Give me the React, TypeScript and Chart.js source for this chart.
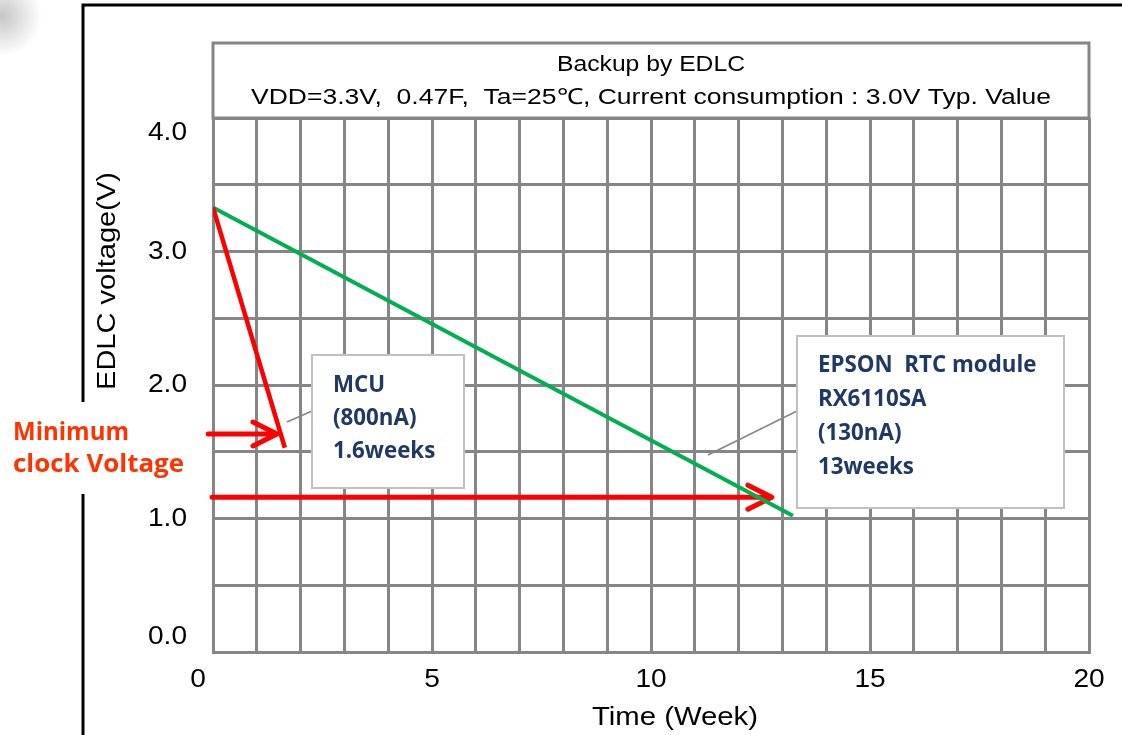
import React, { useEffect, useRef } from "react";
import { Chart, registerables } from "chart.js";

Chart.register(...registerables);

// ---- data ----
const mcuWeeks = [0, 1.64];
const mcuVolts = [3.33, 1.53];
const rtcWeeks = [0, 13.24];
const rtcVolts = [3.33, 1.02];
const mcuArrowWeeks = [-0.11, 1.46];
const mcuArrowVolt = 1.633;
const rtcArrowWeeks = [-0.02, 12.76];
const rtcArrowVolt = 1.16;
const xTickValues = [0, 5, 10, 15, 20];
const yTickValues = [0, 1, 2, 3, 4];
const titleLines = [
  "Backup by EDLC",
  "VDD=3.3V,  0.47F,  Ta=25\u2103, Current consumption : 3.0V Typ. Value",
];
const mcuLabel = ["MCU", "(800nA)", "1.6weeks"];
const rtcLabel = ["EPSON  RTC module", "RX6110SA", "(130nA)", "13weeks"];
const minClockLabel = ["Minimum", "clock Voltage"];
const xAxisTitle = "Time (Week)";
const yAxisTitle = "EDLC voltage(V)";

const GRID = "#868686";
const NAVY = "#1F3864";

function fitText(
  ctx: CanvasRenderingContext2D,
  text: string,
  cx: number,
  cy: number,
  width: number | null,
  align: CanvasTextAlign,
  rotate = 0,
  sxFixed = 1
) {
  const m = ctx.measureText(text).width;
  const sx = width ? width / m : sxFixed;
  ctx.save();
  ctx.translate(cx, cy);
  if (rotate) ctx.rotate(rotate);
  ctx.scale(sx, 1);
  ctx.textAlign = align;
  ctx.textBaseline = "middle";
  ctx.fillText(text, 0, 0);
  ctx.restore();
}

function arrow(ctx: CanvasRenderingContext2D, x0: number, x1: number, y: number) {
  ctx.save();
  ctx.strokeStyle = "#FF0000";
  ctx.lineWidth = 5;
  ctx.lineCap = "round";
  ctx.lineJoin = "round";
  ctx.beginPath();
  ctx.moveTo(x0, y);
  ctx.lineTo(x1 - 2, y);
  ctx.stroke();
  ctx.beginPath();
  ctx.moveTo(x1 - 24, y - 12);
  ctx.lineTo(x1, y);
  ctx.lineTo(x1 - 24, y + 12);
  ctx.stroke();
  ctx.restore();
}

const decorPlugin = {
  id: "decor",
  beforeDatasetsDraw(chart: any) {
    const ctx: CanvasRenderingContext2D = chart.ctx;
    const xs = chart.scales.x;
    const ys = chart.scales.y;
    arrow(
      ctx,
      xs.getPixelForValue(mcuArrowWeeks[0]),
      xs.getPixelForValue(mcuArrowWeeks[1]),
      ys.getPixelForValue(mcuArrowVolt)
    );
    arrow(
      ctx,
      xs.getPixelForValue(rtcArrowWeeks[0]),
      xs.getPixelForValue(rtcArrowWeeks[1]),
      ys.getPixelForValue(rtcArrowVolt)
    );
  },
  afterDraw(chart: any) {
    const ctx: CanvasRenderingContext2D = chart.ctx;
    const area = chart.chartArea;
    const xs = chart.scales.x;
    const ys = chart.scales.y;

    // corner shadow blob
    ctx.save();
    const g = ctx.createRadialGradient(2, 16, 0, 2, 16, 40);
    g.addColorStop(0, "rgba(150,150,150,0.55)");
    g.addColorStop(1, "rgba(150,150,150,0)");
    ctx.fillStyle = g;
    ctx.fillRect(0, 0, 60, 60);
    ctx.restore();

    // outer frame
    ctx.save();
    ctx.strokeStyle = "#000";
    ctx.lineWidth = 3;
    ctx.beginPath();
    ctx.moveTo(83, 735);
    ctx.lineTo(83, 494);
    ctx.moveTo(83, 402);
    ctx.lineTo(83, 5);
    ctx.lineTo(1122, 5);
    ctx.stroke();
    ctx.restore();

    // title box
    ctx.save();
    ctx.fillStyle = "#fff";
    ctx.strokeStyle = GRID;
    ctx.lineWidth = 3;
    ctx.fillRect(area.left, 43, area.right - area.left, area.top - 43);
    ctx.strokeRect(area.left, 43, area.right - area.left, area.top - 43);
    ctx.fillStyle = "#000";
    ctx.font = "22px 'Liberation Sans', Arial, sans-serif";
    const cx = (area.left + area.right) / 2;
    fitText(ctx, titleLines[0], cx, 65, 188, "center");
    fitText(ctx, titleLines[1], cx, 98, 800, "center");
    ctx.restore();

    // tick labels
    ctx.save();
    ctx.fillStyle = "#000";
    ctx.font = "26px 'Liberation Sans', Arial, sans-serif";
    for (const v of yTickValues) {
      let py = ys.getPixelForValue(v);
      py = Math.max(area.top + 15, Math.min(area.bottom - 15, py));
      fitText(ctx, v.toFixed(1), 187, py, null, "right", 0, 1.08);
    }
    for (const v of xTickValues) {
      let px = xs.getPixelForValue(v);
      if (v === xs.min) px -= 15;
      fitText(ctx, String(v), px, 680, null, "center", 0, 1.08);
    }
    // axis titles
    fitText(ctx, xAxisTitle, 675, 718, 166, "center");
    fitText(ctx, yAxisTitle, 108, 281, 218, "center", -Math.PI / 2);
    ctx.restore();

    // Minimum clock voltage label
    ctx.save();
    ctx.fillStyle = "#FF3300";
    ctx.font = "bold 25px 'Open Sans', 'Liberation Sans', sans-serif";
    fitText(ctx, minClockLabel[0], 13, 433, 116, "left");
    fitText(ctx, minClockLabel[1], 13, 465, 171, "left");
    ctx.restore();

    // annotation boxes
    const drawBox = (
      x: number,
      y: number,
      w: number,
      h: number,
      lines: string[],
      tx: number,
      ty: number,
      dy: number,
      leader: number[]
    ) => {
      ctx.save();
      ctx.strokeStyle = GRID;
      ctx.lineWidth = 1.5;
      ctx.beginPath();
      ctx.moveTo(leader[0], leader[1]);
      ctx.lineTo(leader[2], leader[3]);
      ctx.stroke();
      ctx.fillStyle = "#fff";
      ctx.fillRect(x, y, w, h);
      ctx.strokeStyle = "#C0C0C0";
      ctx.lineWidth = 2;
      ctx.strokeRect(x, y, w, h);
      ctx.fillStyle = NAVY;
      ctx.font = "bold 23px 'Open Sans', 'Liberation Sans', sans-serif";
      lines.forEach((l, i) => {
        fitText(ctx, l, tx, ty + i * dy, null, "left", 0, 0.97);
      });
      ctx.restore();
    };
    drawBox(312, 355, 152, 133, mcuLabel, 333, 385, 33, [312, 411, 287, 422]);
    drawBox(797, 336, 267, 172, rtcLabel, 818, 365, 34.3, [797, 411, 708, 455]);
  },
};

export default function App() {
  const ref = useRef<HTMLCanvasElement | null>(null);
  useEffect(() => {
    if (!ref.current) return;
    const chart = new Chart(ref.current, {
      type: "line",
      data: {
        datasets: [
          {
            label: "MCU",
            data: mcuWeeks.map((x, i) => ({ x, y: mcuVolts[i] })),
            borderColor: "#FF0000",
            borderWidth: 4.5,
            pointRadius: 0,
            fill: false,
          },
          {
            label: "RTC",
            data: rtcWeeks.map((x, i) => ({ x, y: rtcVolts[i] })),
            borderColor: "#00B050",
            borderWidth: 4,
            pointRadius: 0,
            fill: false,
          },
        ],
      },
      options: {
        responsive: false,
        animation: false,
        devicePixelRatio: 1,
        layout: { padding: { left: 213, right: 33, top: 118, bottom: 83 } },
        plugins: { legend: { display: false }, tooltip: { enabled: false }, title: { display: false } },
        scales: {
          x: {
            type: "linear",
            min: 0,
            max: 20,
            ticks: { stepSize: 1, display: false },
            grid: { color: GRID, lineWidth: 3, drawTicks: false },
            border: { color: GRID, width: 3 },
          },
          y: {
            type: "linear",
            min: 0,
            max: 4,
            ticks: { stepSize: 0.5, display: false },
            grid: { color: GRID, lineWidth: 3, drawTicks: false },
            border: { color: GRID, width: 3 },
          },
        },
      },
      plugins: [decorPlugin],
    });
    return () => chart.destroy();
  }, []);
  return (
    <div style={{ position: "fixed", left: 0, top: 0, width: 1122, height: 735, background: "#fff" }}>
      <canvas ref={ref} width={1122} height={735} style={{ width: 1122, height: 735, display: "block" }} />
    </div>
  );
}
